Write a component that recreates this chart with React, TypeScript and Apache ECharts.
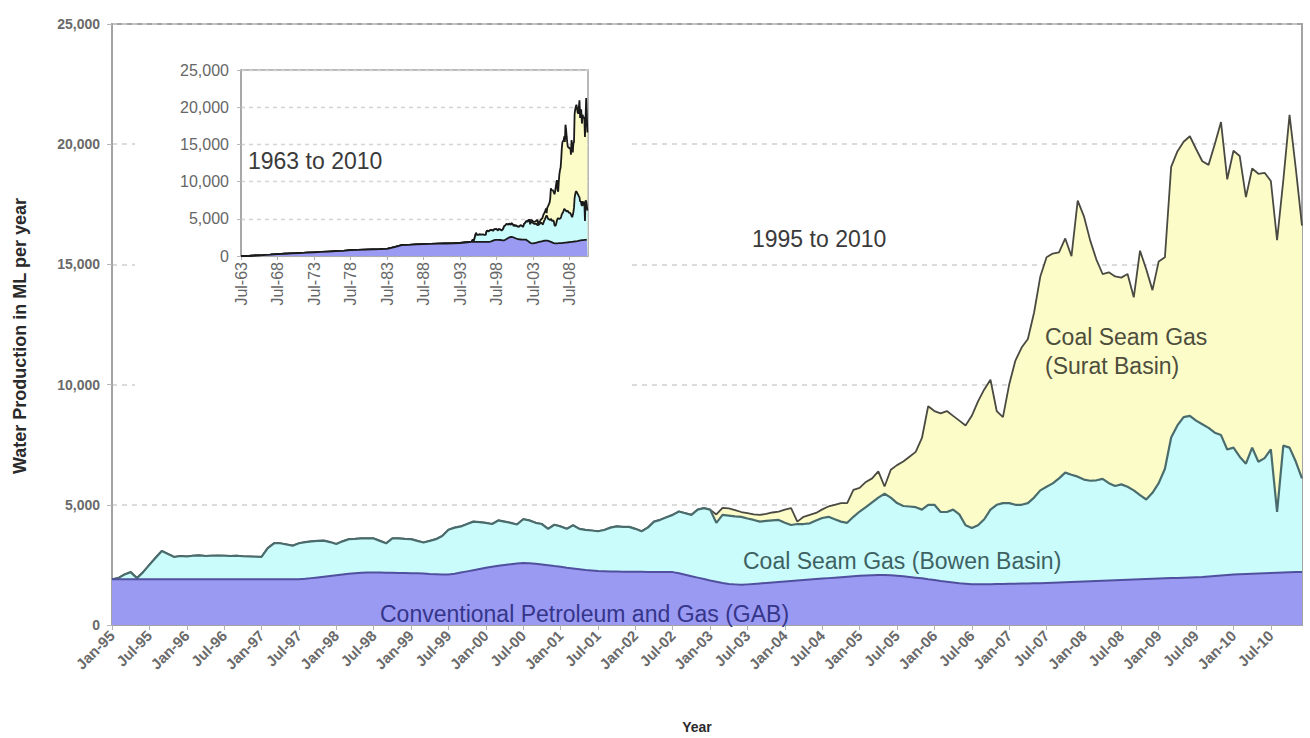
import React, { useEffect, useRef } from "react";
import * as echarts from "echarts";

// ---------- categories ----------
const YEARS = ["95", "96", "97", "98", "99", "00", "01", "02", "03", "04", "05", "06", "07", "08", "09", "10"];
const MONTHS = ["Jan", "Feb", "Mar", "Apr", "May", "Jun", "Jul", "Aug", "Sep", "Oct", "Nov", "Dec"];
const categories = YEARS.flatMap((y) => MONTHS.map((m) => `${m}-${y}`));

// ---------- monthly values, Jan-95 .. Dec-10 (ML per year) ----------
// Conventional Petroleum and Gas (GAB)
const gab = [
  1900, 1900, 1900, 1900, 1900, 1900, 1900, 1900, 1900, 1900, 1900, 1900,
  1900, 1900, 1900, 1900, 1900, 1900, 1900, 1900, 1900, 1900, 1900, 1900,
  1900, 1900, 1900, 1900, 1900, 1900, 1900, 1920, 1950, 1980, 2010, 2040,
  2070, 2100, 2130, 2150, 2170, 2180, 2180, 2180, 2170, 2170, 2160, 2160,
  2150, 2150, 2140, 2120, 2110, 2100, 2100, 2130, 2180, 2230, 2280, 2330,
  2380, 2420, 2460, 2500, 2530, 2560, 2580, 2570, 2550, 2520, 2490, 2450,
  2420, 2380, 2350, 2320, 2290, 2270, 2250, 2240, 2230, 2230, 2220, 2220,
  2210, 2210, 2200, 2200, 2200, 2200, 2200, 2150, 2090, 2030, 1970, 1910,
  1850, 1800, 1750, 1710, 1690, 1670, 1690, 1710, 1730, 1750, 1770, 1790,
  1810, 1830, 1850, 1870, 1890, 1910, 1930, 1950, 1970, 1990, 2010, 2030,
  2050, 2060, 2070, 2080, 2080, 2070, 2050, 2030, 2000, 1970, 1940, 1900,
  1870, 1830, 1800, 1770, 1740, 1720, 1700, 1700, 1700, 1700, 1710, 1710,
  1720, 1720, 1730, 1730, 1740, 1740, 1750, 1760, 1770, 1780, 1790, 1800,
  1810, 1820, 1830, 1840, 1850, 1860, 1870, 1880, 1890, 1900, 1910, 1920,
  1930, 1940, 1950, 1960, 1970, 1980, 1990, 2000, 2020, 2040, 2060, 2080,
  2100, 2110, 2120, 2130, 2140, 2150, 2160, 2170, 2180, 2190, 2200, 2200,
];

// Coal Seam Gas (Bowen Basin)
const bowen = [
  0, 50, 200, 300, 50, 300, 600, 900, 1180, 1050, 930, 970,
  950, 980, 1000, 970, 980, 990, 980, 970, 980, 960, 950, 940,
  930, 1300, 1500, 1500, 1450, 1400, 1500, 1530, 1530, 1520, 1500, 1410,
  1300, 1380, 1440, 1430, 1430, 1420, 1420, 1320, 1230, 1430, 1440, 1420,
  1420, 1350, 1290, 1380, 1460, 1600, 1860, 1920, 1920, 1970, 2020, 1950,
  1870, 1780, 1890, 1800, 1720, 1620, 1820, 1780, 1700, 1680, 1510, 1720,
  1680, 1620, 1800, 1680, 1670, 1660, 1650, 1710, 1820, 1870, 1860, 1860,
  1790, 1690, 1850, 2100, 2175, 2280, 2380, 2570, 2560, 2550, 2830, 2950,
  2950, 2450, 2830, 2840, 2830, 2830, 2740, 2660, 2570, 2580, 2580, 2580,
  2440, 2330, 2350, 2330, 2340, 2440, 2520, 2550, 2430, 2310, 2240, 2470,
  2670, 2840, 3030, 3220, 3380, 3230, 3020, 2920, 2930, 2930, 2860, 3100,
  3130, 2870, 2900, 3030, 2860, 2430, 2330, 2450, 2700, 3100, 3290, 3360,
  3350, 3280, 3270, 3340, 3560, 3860, 4000, 4130, 4330, 4560, 4460, 4370,
  4240, 4180, 4190, 4240, 4050, 3920, 3980, 3870, 3710, 3500, 3310, 3580,
  3970, 4560, 5850, 6340, 6680, 6720, 6510, 6350, 6180, 5960, 5840, 5220,
  5280, 4890, 4590, 5250, 4650, 4790, 5150, 2530, 5280, 5190, 4600, 3900,
];

// Coal Seam Gas (Surat Basin)
const surat = [
  0, 0, 0, 0, 0, 0, 0, 0, 0, 0, 0, 0,
  0, 0, 0, 0, 0, 0, 0, 0, 0, 0, 0, 0,
  0, 0, 0, 0, 0, 0, 0, 0, 0, 0, 0, 0,
  0, 0, 0, 0, 0, 0, 0, 0, 0, 0, 0, 0,
  0, 0, 0, 0, 0, 0, 0, 0, 0, 0, 0, 0,
  0, 0, 0, 0, 0, 0, 0, 0, 0, 0, 0, 0,
  0, 0, 0, 0, 0, 0, 0, 0, 0, 0, 0, 0,
  0, 0, 0, 0, 0, 0, 0, 0, 0, 0, 0, 0,
  0, 350, 295, 300, 260, 200, 220, 230, 280, 290, 330, 350,
  550, 700, 100, 300, 350, 310, 360, 430, 600, 770, 820, 1120,
  980, 1050, 1000, 1090, 300, 1160, 1580, 1850, 2070, 2300, 2980, 4100,
  3900, 4100, 4200, 3900, 3900, 4150, 4670, 5150, 5400, 5400, 3900, 3580,
  4930, 6000, 6540, 6830, 7700, 8900, 9550, 9560, 9400, 9740, 9090, 11480,
  10950, 10000, 9180, 8520, 8770, 8720, 8600, 8850, 8030, 10170, 9580, 8430,
  9225, 8800, 11260, 11400, 11450, 11630, 11300, 10940, 10940, 12000, 13020, 11240,
  12350, 12510, 11090, 11610, 11980, 11870, 11160, 11310, 11040, 13840, 12200, 10510,
];

// ---------- inset: earlier history, July of each year 1963..1994 (GAB only) ----------
const earlyYears = [
  1963, 1964, 1965, 1966, 1967, 1968, 1969, 1970, 1971, 1972, 1973, 1974, 1975, 1976, 1977, 1978,
  1979, 1980, 1981, 1982, 1983, 1984, 1985, 1986, 1987, 1988, 1989, 1990, 1991, 1992, 1993, 1994,
];
const gabEarly = [
  0, 30, 80, 120, 180, 250, 300, 350, 400, 450, 500, 550, 600, 650, 700, 780,
  820, 860, 900, 920, 950, 1200, 1450, 1500, 1550, 1600, 1620, 1650, 1680, 1700, 1750, 1850,
];
const bowenEarly = [
  0, 0, 0, 0, 0, 0, 0, 0, 0, 0, 0, 0, 0, 0, 0, 0,
  0, 0, 0, 0, 0, 0, 0, 0, 0, 0, 0, 0, 0, 0, 0, 0,
];
const suratEarly = bowenEarly;

// axis ticks
const yTicks = { min: 0, max: 25000, interval: 5000 };

const FONT = "'Liberation Sans', Arial, sans-serif";
const fmt = (v: number) => v.toLocaleString("en-US");

const C_GAB = "#9a9af2";
const C_BOWEN = "#cbfcfc";
const C_SURAT = "#fcfcc9";

export default function App() {
  const ref = useRef<HTMLDivElement>(null);

  useEffect(() => {
    if (!ref.current) return;
    const chart = echarts.init(ref.current, undefined, { renderer: "svg" });

    // inset x: years after Jul-63
    const insetX = [
      ...earlyYears.map((y) => y - 1963),
      ...categories.map((_, i) => 31.5 + i / 12),
    ];
    const insetGab = [...gabEarly, ...gab];
    const insetBowen = [...bowenEarly, ...bowen];
    const insetSurat = [...suratEarly, ...surat];
    const cumGab = insetGab.map((v, k) => [insetX[k], v]);
    const cumBowen = insetGab.map((v, k) => [insetX[k], v + insetBowen[k]]);
    const cumAll = insetGab.map((v, k) => [insetX[k], v + insetBowen[k] + insetSurat[k]]);

    const insetSeries = (name: string, data: number[][], color: string, z: number) => ({
      name,
      type: "line",
      xAxisIndex: 1,
      yAxisIndex: 1,
      data,
      symbol: "none",
      z,
      lineStyle: { color: "#1a1a1a", width: 1.8 },
      areaStyle: { color, opacity: 1 },
    });

    chart.setOption({
      animation: false,
      textStyle: { fontFamily: FONT },
      grid: [
        { left: 112, top: 24, right: 8, bottom: 113, show: true, borderColor: "#a3a3a3", borderWidth: 2 },
        { left: 241, top: 70, width: 347, height: 186, show: true, borderColor: "#a3a3a3", borderWidth: 1.5, z: 3 },
      ],
      xAxis: [
        {
          type: "category",
          gridIndex: 0,
          data: categories,
          boundaryGap: false,
          axisLine: { lineStyle: { color: "#a3a3a3", width: 2 } },
          axisTick: { interval: 5, length: 5, lineStyle: { color: "#b0b0b0" } },
          axisLabel: {
            interval: 5,
            rotate: 45,
            fontSize: 15,
            fontWeight: "bold",
            color: "#6a6a6a",
            margin: 8,
            fontFamily: FONT,
          },
          splitLine: { show: false },
        },
        {
          type: "value",
          gridIndex: 1,
          min: 0,
          max: 47.5,
          interval: 5,
          z: 3,
          axisLine: { lineStyle: { color: "#a3a3a3", width: 1.5 } },
          axisTick: { length: 4, lineStyle: { color: "#b0b0b0" } },
          axisLabel: {
            rotate: 90,
            fontSize: 16,
            color: "#666",
            margin: 6,
            showMaxLabel: false,
            fontFamily: FONT,
            formatter: (v: number) => "Jul-" + String((1963 + v) % 100).padStart(2, "0"),
          },
          splitLine: { show: false },
        },
      ],
      yAxis: [
        {
          type: "value",
          gridIndex: 0,
          ...yTicks,
          axisLine: { show: true, lineStyle: { color: "#a3a3a3", width: 2 } },
          axisTick: { show: true, length: 5, lineStyle: { color: "#b8b8b8" } },
          axisLabel: {
            fontSize: 14,
            fontWeight: "bold",
            color: "#6a6a6a",
            margin: 12,
            formatter: fmt,
            fontFamily: FONT,
          },
          splitLine: { show: true, lineStyle: { color: "#cfcfcf", type: [5, 5], width: 1.5 } },
        },
        {
          type: "value",
          gridIndex: 1,
          ...yTicks,
          z: 3,
          axisLine: { show: true, lineStyle: { color: "#a3a3a3", width: 1.5 } },
          axisTick: { show: true, length: 4, lineStyle: { color: "#b8b8b8" } },
          axisLabel: { fontSize: 16, color: "#666", margin: 12, formatter: fmt, fontFamily: FONT },
          splitLine: { show: true, lineStyle: { color: "#d4d4d4", type: [4, 4], width: 1.3 } },
        },
      ],
      series: [
        {
          name: "Conventional Petroleum and Gas (GAB)",
          type: "line",
          stack: "water",
          data: gab,
          symbol: "none",
          z: 5,
          lineStyle: { color: "#50509e", width: 2 },
          areaStyle: { color: C_GAB, opacity: 1 },
        },
        {
          name: "Coal Seam Gas (Bowen Basin)",
          type: "line",
          stack: "water",
          data: bowen,
          symbol: "none",
          z: 4,
          lineStyle: { color: "#4a6c6c", width: 2.2 },
          areaStyle: { color: C_BOWEN, opacity: 1 },
        },
        {
          name: "Coal Seam Gas (Surat Basin)",
          type: "line",
          stack: "water",
          data: surat,
          symbol: "none",
          z: 3,
          lineStyle: { color: "#4a4a42", width: 1.8 },
          areaStyle: { color: C_SURAT, opacity: 1 },
        },
        insetSeries("Total (inset)", cumAll, C_SURAT, 6),
        insetSeries("GAB + Bowen (inset)", cumBowen, C_BOWEN, 7),
        insetSeries("GAB (inset)", cumGab, C_GAB, 8),
      ],
      graphic: [
        { type: "rect", z: 1, shape: { x: 135, y: 27, width: 495, height: 372 }, style: { fill: "#ffffff" } },
        {
          type: "text", z: 20, x: 248, y: 161,
          style: { text: "1963 to 2010", fontSize: 23, fill: "#3a3a3a", fontFamily: FONT, textVerticalAlign: "middle" },
        },
        {
          type: "text", z: 20, x: 752, y: 239,
          style: { text: "1995 to 2010", fontSize: 23, fill: "#3a3a3a", fontFamily: FONT, textVerticalAlign: "middle" },
        },
        {
          type: "text", z: 20, x: 1045, y: 337,
          style: { text: "Coal Seam Gas", fontSize: 23, fill: "#4d4d3c", fontFamily: FONT, textVerticalAlign: "middle" },
        },
        {
          type: "text", z: 20, x: 1045, y: 366,
          style: { text: "(Surat Basin)", fontSize: 23, fill: "#4d4d3c", fontFamily: FONT, textVerticalAlign: "middle" },
        },
        {
          type: "text", z: 20, x: 743, y: 561,
          style: { text: "Coal Seam Gas (Bowen Basin)", fontSize: 23, fill: "#3d6262", fontFamily: FONT, textVerticalAlign: "middle" },
        },
        {
          type: "text", z: 20, x: 380, y: 614,
          style: { text: "Conventional Petroleum and Gas (GAB)", fontSize: 23, fill: "#35358a", fontFamily: FONT, textVerticalAlign: "middle" },
        },
        {
          type: "text", z: 20, x: 20, y: 336, rotation: Math.PI / 2,
          style: {
            text: "Water Production in ML per year", fontSize: 18, fontWeight: "bold", fill: "#2a2a2a",
            fontFamily: FONT, textAlign: "center", textVerticalAlign: "middle",
          },
        },
        {
          type: "text", z: 20, x: 697, y: 727,
          style: {
            text: "Year", fontSize: 14, fontWeight: "bold", fill: "#2a2a2a",
            fontFamily: FONT, textAlign: "center", textVerticalAlign: "middle",
          },
        },
      ],
    });

    return () => chart.dispose();
  }, []);

  return (
    <div
      ref={ref}
      style={{ position: "fixed", left: 0, top: 0, width: 1310, height: 738, background: "#fff" }}
    />
  );
}
